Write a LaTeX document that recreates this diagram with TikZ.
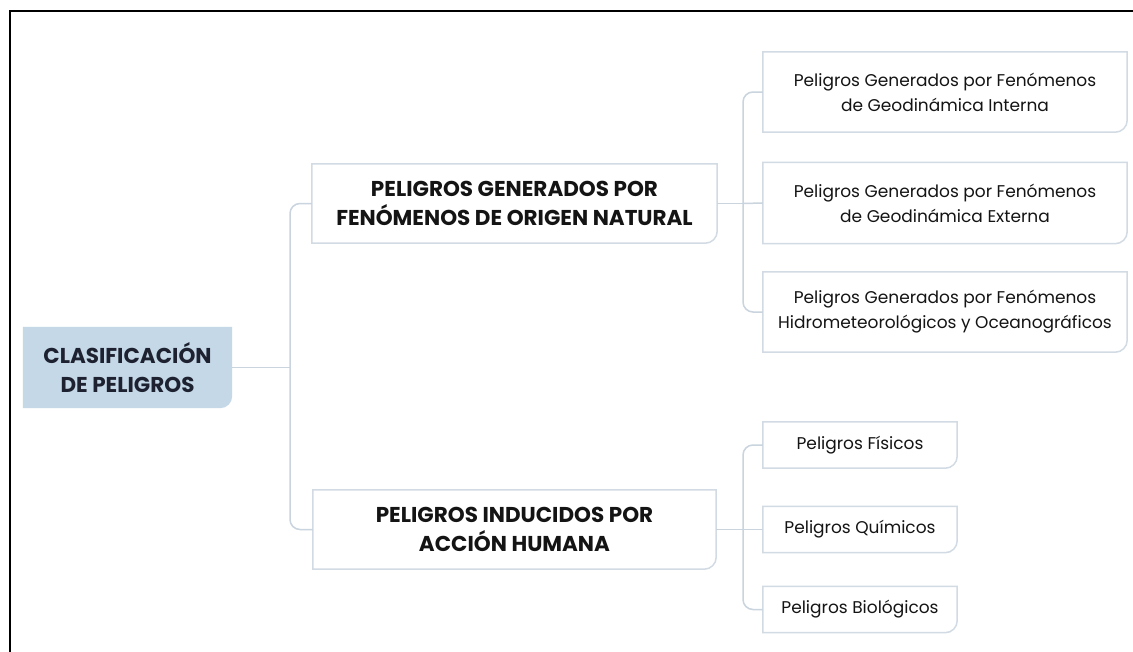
\documentclass[tikz,border=0pt]{standalone}
\usepackage{fontspec}
\setmainfont{Poppins}
\definecolor{rootfill}{HTML}{C5D8E7}
\definecolor{rootText}{HTML}{1E2230}
\definecolor{boxline}{HTML}{D2DBE3}
\definecolor{connline}{HTML}{C9D4DE}
\definecolor{txt}{HTML}{141414}
\tikzset{
  frameline/.style={line width=2pt, draw=black},
  conn/.style={line width=1.5pt, draw=connline, rounded corners=10pt},
  bigtext/.style={font=\bfseries\fontsize{21.5}{29}\selectfont, text=txt, align=center, inner sep=0pt},
  smalltext/.style={font=\fontsize{17}{25}\selectfont, text=txt, align=center, inner sep=0pt},
  rounded box/.style={line width=1.5pt, draw=boxline},
}
\newcommand{\brbox}[1]{%
  \draw[rounded box] (#1.north west) -- (#1.north east) -- ([yshift=12pt]#1.south east)
    arc[start angle=0, end angle=-90, radius=12pt] -- (#1.south west) -- cycle;}
\begin{document}
\begin{tikzpicture}[x=1pt,y=-1pt]
\useasboundingbox (0,0) rectangle (1133,651);
\fill[white] (0,0) rectangle (1133,651);
% frame
\draw[frameline] (10,652) -- (10,11) -- (1134,11);

% root
\node[minimum width=209pt, minimum height=81pt, inner sep=0pt] (root) at (127.5,367.5) {};
\fill[rootfill] (root.north west) -- (root.north east) -- ([yshift=12pt]root.south east)
    arc[start angle=0, end angle=-90, radius=12pt] -- (root.south west) -- cycle;
\node[bigtext, text=rootText] (roottxt) at (root.center) {CLASIFICACIÓN\\DE PELIGROS};

% level 1
\node[minimum width=405pt, minimum height=79pt, inner sep=0pt] (b1) at (514.5,203.5) {};
\node[bigtext] (b1txt) at (b1.center) {PELIGROS GENERADOS POR\\FENÓMENOS DE ORIGEN NATURAL};
\node[minimum width=403pt, minimum height=79pt, inner sep=0pt] (b2) at (514.5,529.5) {};
\node[bigtext] (b2txt) at (b2.center) {PELIGROS INDUCIDOS POR\\ACCIÓN HUMANA};

% level 2 natural
\node[minimum width=364pt, minimum height=80pt, inner sep=0pt] (nA) at (945,92) {};
\node[smalltext] (nAtxt) at (nA.center) {Peligros Generados por Fenómenos\\de Geodinámica Interna};
\node[minimum width=364pt, minimum height=81pt, inner sep=0pt] (nB) at (945,203) {};
\node[smalltext] (nBtxt) at (nB.center) {Peligros Generados por Fenómenos\\de Geodinámica Externa};
\node[minimum width=364pt, minimum height=80pt, inner sep=0pt] (nC) at (945,312) {};
\node[smalltext] (nCtxt) at (nC.center) {Peligros Generados por Fenómenos\\Hidrometeorológicos y Oceanográficos};

% level 2 human
\node[minimum width=194pt, minimum height=46pt, inner sep=0pt] (hD) at (860,445) {};
\node[smalltext] (hDtxt) at (hD.center) {Peligros Físicos};
\node[minimum width=194pt, minimum height=46pt, inner sep=0pt] (hE) at (860,529.5) {};
\node[smalltext] (hEtxt) at (hE.center) {Peligros Químicos};
\node[minimum width=194pt, minimum height=46pt, inner sep=0pt] (hF) at (860,609.5) {};
\node[smalltext] (hFtxt) at (hF.center) {Peligros Biológicos};

\brbox{b1}\brbox{b2}\brbox{nA}\brbox{nB}\brbox{nC}\brbox{hD}\brbox{hE}\brbox{hF}

% junctions
\coordinate (j1) at (290,367.5);
\coordinate (j2) at (743,203.5);
\coordinate (j3) at (743,529.5);

% connectors
\draw[conn] (root.east) -- (j1);
\draw[conn] (b1.west) -| (j1) |- (b2.west);
\draw[conn] (b1.east) -- (j2);
\draw[conn] (nA.west) -| (j2) |- (nC.west);
\draw[conn] (nB.west) -- (j2);
\draw[conn] (b2.east) -- (j3);
\draw[conn] (hD.west) -| (j3) |- (hF.west);
\draw[conn] (hE.west) -- (j3);
\end{tikzpicture}
\end{document}
